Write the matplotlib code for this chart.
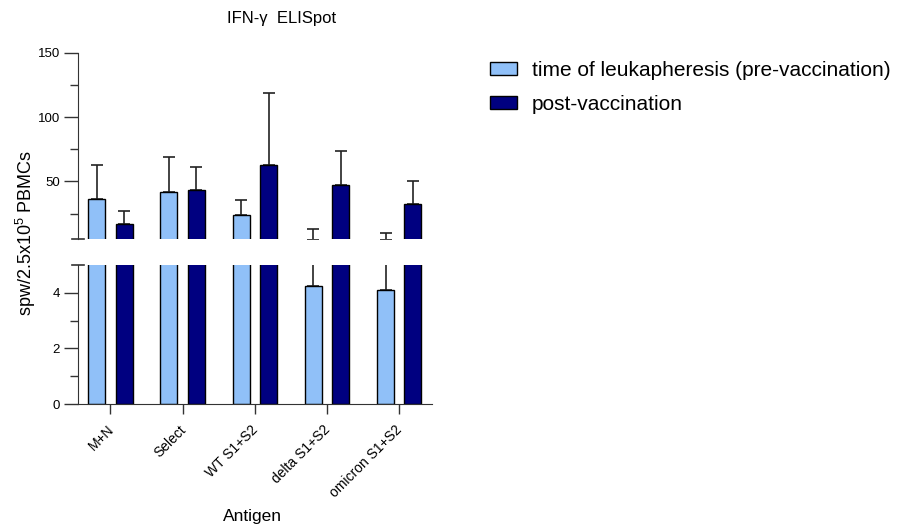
import numpy as np
import matplotlib
matplotlib.use("Agg")
import matplotlib.pyplot as plt
import matplotlib.transforms as mtransforms
from matplotlib.patches import Patch

plt.rcParams['font.family'] = ['Liberation Sans', 'DejaVu Sans']
plt.rcParams['mathtext.fontset'] = 'custom'
plt.rcParams['mathtext.rm'] = 'Liberation Sans'
plt.rcParams['mathtext.it'] = 'Liberation Sans'

# ---- data ----
antigens = ["M+N", "Select", "WT S1+S2", "delta S1+S2", "omicron S1+S2"]
pre_mean = [36.5, 41.8, 23.6, 4.22, 4.09]
pre_sd = [26.2, 26.9, 11.7, 8.6, 6.0]
post_mean = [17.1, 43.5, 62.5, 47.4, 32.2]
post_sd = [9.9, 17.9, 55.9, 26.4, 18.3]
series_names = ["time of leukapheresis (pre-vaccination)", "post-vaccination"]

LIGHT = "#90C0F8"
DARK = "#000080"
EDGE = "#222222"

W, H = 897, 529
fig = plt.figure(figsize=(W / 100, H / 100), dpi=100)

left, right = 78 / W, 431.7 / W
ax_top = fig.add_axes([left, 1 - 239.3 / H, right - left, 186.6 / H])
ax_bot = fig.add_axes([left, 1 - 404.3 / H, right - left, 139.6 / H])

x = np.arange(len(antigens))
bw = 0.235
off = 0.19

for ax in (ax_top, ax_bot):
    ax.bar(x - off, pre_mean, bw, color=LIGHT, edgecolor="black", linewidth=1.0, zorder=2)
    ax.bar(x + off, post_mean, bw, color=DARK, edgecolor="black", linewidth=1.0, zorder=2)
    # upper-only error bars
    ax.errorbar(x - off, pre_mean, yerr=[np.zeros(len(x)), pre_sd], fmt="none",
                ecolor=EDGE, elinewidth=1.2, capsize=4, capthick=1.2, zorder=1)
    ax.errorbar(x + off, post_mean, yerr=[np.zeros(len(x)), post_sd], fmt="none",
                ecolor=EDGE, elinewidth=1.2, capsize=4, capthick=1.2, zorder=1)
    ax.set_xlim(-0.45, 4.45)
    for s in ("top", "right"):
        ax.spines[s].set_visible(False)
    ax.spines["left"].set_color("#333333")
    ax.spines["bottom"].set_color("#333333")
    ax.tick_params(axis="y", which="major", length=10, width=1, color="#333333",
                   labelsize=9.5, pad=3)
    ax.tick_params(axis="y", which="minor", length=5.5, width=1, color="#333333")

# top segment
ax_top.set_ylim(5, 150)
ax_top.set_yticks([50, 100, 150])
ax_top.set_yticks([25, 75, 125], minor=True)
ax_top.spines["bottom"].set_visible(False)
ax_top.tick_params(axis="x", which="both", bottom=False, labelbottom=False)

# bottom segment
ax_bot.set_ylim(0, 5)
ax_bot.set_yticks([0, 2, 4])
ax_bot.set_yticks([1, 3], minor=True)
ax_bot.set_xticks(x)
ax_bot.set_xticklabels(antigens, rotation=45, ha="right", rotation_mode="anchor",
                       fontsize=10)
ax_bot.tick_params(axis="x", length=7, width=1, color="#333333", pad=6)
shift = mtransforms.ScaledTranslation(-4 / 100, 0, fig.dpi_scale_trans)
for lab in ax_bot.get_xticklabels():
    lab.set_transform(lab.get_transform() + shift)

# break marks on the left spine
for ax, yv in ((ax_top, 0), (ax_bot, 1)):
    ax.plot([-0.017, 0.017], [yv, yv], transform=ax.transAxes, color="#333333",
            lw=1.2, clip_on=False)

fig.text(282 / W, 1 - 19 / H, "IFN-\u03b3  ELISpot", ha="center", va="center", fontsize=12)
fig.text(26 / W, 1 - 233 / H, "spw/2.5x10$^{5}$ PBMCs", rotation=90,
         ha="center", va="center", fontsize=13)
fig.text(252.5 / W, 1 - 516 / H, "Antigen", ha="center", va="center", fontsize=12.5)

handles = [Patch(facecolor=LIGHT, edgecolor="black", linewidth=1.0),
           Patch(facecolor=DARK, edgecolor="black", linewidth=1.0)]
fig.legend(handles, series_names, loc="upper left", bbox_to_anchor=(490 / W, 1 - 61 / H),
           frameon=False, fontsize=15, handlelength=1.3, handleheight=0.6,
           handletextpad=0.72, labelspacing=0.72, borderpad=0, borderaxespad=0)

fig.savefig("out.png", dpi=100)
